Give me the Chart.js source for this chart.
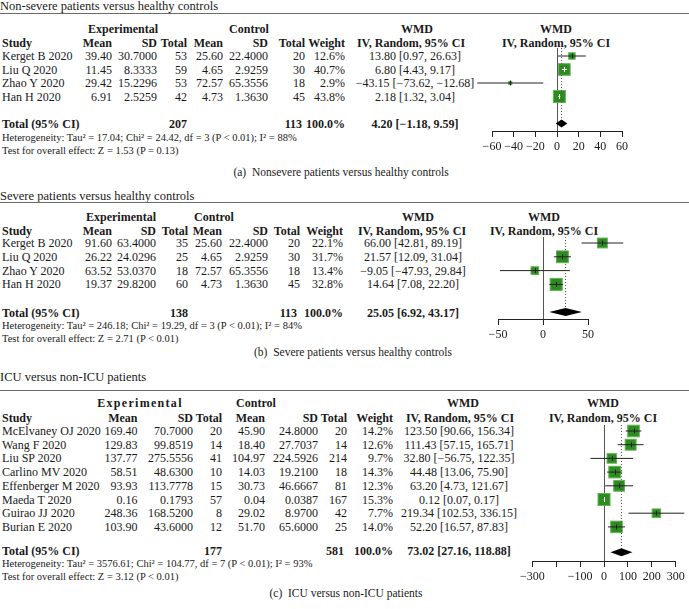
<!DOCTYPE html>
<html><head><meta charset="utf-8">
<script src="https://cdn.jsdelivr.net/npm/chart.js@4.4.0/dist/chart.umd.min.js"></script>
<style>
html,body{margin:0;padding:0;background:#fff;}
#root{position:relative;width:689px;height:609px;overflow:hidden;font-family:"Liberation Serif","Times New Roman",serif;color:#1a1a1a;}
.t{position:absolute;white-space:pre;line-height:1;font-size:12px;}
.b{font-weight:bold;}
.sm{font-size:10.5px;}
.ti{font-size:12.5px;}
.cap{font-size:11.5px;}
.sp{letter-spacing:1.3px;}
.rule{position:absolute;left:0;width:689px;height:0;border-top:1.5px solid #6b6b6b;}
canvas{position:absolute;}
</style></head><body><div id="root"></div>
<script>
// ---------------- DATA ----------------
// Panel (a) Non-severe patients versus healthy controls
const studiesA   = ["Kerget B 2020", "Liu Q 2020", "Zhao Y 2020", "Han H 2020"];
const expMeanA   = [39.40, 11.45, 29.42, 6.91];
const expSdA     = [30.7000, 8.3333, 15.2296, 2.5259];
const expTotalA  = [53, 59, 53, 42];
const ctrlMeanA  = [25.60, 4.65, 72.57, 4.73];
const ctrlSdA    = [22.4000, 2.9259, 65.3556, 1.3630];
const ctrlTotalA = [20, 30, 18, 45];
const weightA    = [12.6, 40.7, 2.9, 43.8];
const wmdA       = [13.80, 6.80, -43.15, 2.18];
const loA        = [0.97, 4.43, -73.62, 1.32];
const hiA        = [26.63, 9.17, -12.68, 3.04];
const pooledA    = [4.20, -1.18, 9.59];          // estimate, lower, upper
const totalsA    = [207, 113];                   // experimental N, control N
const hetA       = ["17.04", "24.42", 3, "< 0.01", 88];  // Tau², Chi², df, P, I²
const testA      = ["1.53", "= 0.13"];           // Z, P
const ticksA     = [-60, -40, -20, 0, 20, 40, 60];
const tickLabelsA= ["−60", "−40", "−20", "0", "20", "40", "60"];

// Panel (b) Severe patients versus healthy controls
const studiesB   = ["Kerget B 2020", "Liu Q 2020", "Zhao Y 2020", "Han H 2020"];
const expMeanB   = [91.60, 26.22, 63.52, 19.37];
const expSdB     = [63.4000, 24.0296, 53.0370, 29.8200];
const expTotalB  = [35, 25, 18, 60];
const ctrlMeanB  = [25.60, 4.65, 72.57, 4.73];
const ctrlSdB    = [22.4000, 2.9259, 65.3556, 1.3630];
const ctrlTotalB = [20, 30, 18, 45];
const weightB    = [22.1, 31.7, 13.4, 32.8];
const wmdB       = [66.00, 21.57, -9.05, 14.64];
const loB        = [42.81, 12.09, -47.93, 7.08];
const hiB        = [89.19, 31.04, 29.84, 22.20];
const pooledB    = [25.05, 6.92, 43.17];
const totalsB    = [138, 113];
const hetB       = ["246.18", "19.29", 3, "< 0.01", 84];
const testB      = ["2.71", "< 0.01"];
const ticksB     = [-50, 0, 50];
const tickLabelsB= ["−50", "0", "50"];

// Panel (c) ICU versus non-ICU patients
const studiesC   = ["McElvaney OJ 2020", "Wang F 2020", "Liu SP 2020", "Carlino MV 2020",
                    "Effenberger M 2020", "Maeda T 2020", "Guirao JJ 2020", "Burian E 2020"];
const expMeanC   = [169.40, 129.83, 137.77, 58.51, 93.93, 0.16, 248.36, 103.90];
const expSdC     = [70.7000, 99.8519, 275.5556, 48.6300, 113.7778, 0.1793, 168.5200, 43.6000];
const expTotalC  = [20, 14, 41, 10, 15, 57, 8, 12];
const ctrlMeanC  = [45.90, 18.40, 104.97, 14.03, 30.73, 0.04, 29.02, 51.70];
const ctrlSdC    = [24.8000, 27.7037, 224.5926, 19.2100, 46.6667, 0.0387, 8.9700, 65.6000];
const ctrlTotalC = [20, 14, 214, 18, 81, 167, 42, 25];
const weightC    = [14.2, 12.6, 9.7, 14.3, 12.3, 15.3, 7.7, 14.0];
const wmdC       = [123.50, 111.43, 32.80, 44.48, 63.20, 0.12, 219.34, 52.20];
const loC        = [90.66, 57.15, -56.75, 13.06, 4.73, 0.07, 102.53, 16.57];
const hiC        = [156.34, 165.71, 122.35, 75.90, 121.67, 0.17, 336.15, 87.83];
const pooledC    = [73.02, 27.16, 118.88];
const totalsC    = [177, 581];
const hetC       = ["3576.61", "104.77", 7, "< 0.01", 93];
const testC      = ["3.12", "< 0.01"];
const ticksC     = [-300, -200, -100, 0, 100, 200, 300];
const tickLabelsC= ["−300", "", "−100", "0", "100", "200", "300"];

// ---------------- LAYOUT / STYLE ----------------
const root = document.getElementById('root');
const FONT = '"Liberation Serif","Times New Roman",serif';
const SQ_FILL = '#2e8b22', SQ_EDGE = '#62b354', LINE = '#222', AXIS = '#222';

function fmt(v, d) { return v.toFixed(d).replace('-', '−'); }
function put(x, y, s, align, cls) {
  const d = document.createElement('div');
  d.className = 't ' + (cls || '');
  d.textContent = s;
  d.style.left = x + 'px';
  d.style.top = y + 'px';
  const tx = align === 'r' ? '-100%' : align === 'c' ? '-50%' : '0';
  d.style.transform = 'translate(' + tx + ',-50%)';
  root.appendChild(d);
}
function rule(y) {
  const d = document.createElement('div');
  d.className = 'rule';
  d.style.top = y + 'px';
  root.appendChild(d);
}

const panels = [
  { title: "Non-severe patients versus healthy controls", caption: "(a)  Nonsevere patients versus healthy controls",
    studies: studiesA, em: expMeanA, esd: expSdA, en: expTotalA, cm: ctrlMeanA, csd: ctrlSdA, cn: ctrlTotalA,
    w: weightA, est: wmdA, lo: loA, hi: hiA, pooled: pooledA, totals: totalsA, het: hetA, test: testA,
    ticks: ticksA, tickLabels: tickLabelsA, expCls: '',
    L: { titleY: 6, ruleY: 13, h1: 29, h2: 43, row1: 56, step: 13.5, totalIdx: 6, totalY: 124, hetY: 137.5, testY: 151,
         capX: 341, capY: 173, cols: [112, 157, 187, 223, 268, 305, 345], wmdC: 415, wmdHC: 417, ivHC: 411,
         expC: 123, ctrlC: 249, areaL: 492, areaR: 622, areaTop: 48, axisY: 131, headC: 556, maxSide: 12 } },
  { title: "Severe patients versus healthy controls", caption: "(b)  Severe patients versus healthy controls",
    studies: studiesB, em: expMeanB, esd: expSdB, en: expTotalB, cm: ctrlMeanB, csd: ctrlSdB, cn: ctrlTotalB,
    w: weightB, est: wmdB, lo: loB, hi: hiB, pooled: pooledB, totals: totalsB, het: hetB, test: testB,
    ticks: ticksB, tickLabels: tickLabelsB, expCls: '',
    L: { titleY: 196, ruleY: 201.5, h1: 217, h2: 231, row1: 243, step: 13.8, totalIdx: 6, totalY: 313, hetY: 326, testY: 339,
         capX: 353, capY: 353, cols: [112, 156, 188, 222, 268, 300, 343], wmdC: 413, wmdHC: 418, ivHC: 412,
         expC: 121, ctrlC: 214, areaL: 498, areaR: 588, areaTop: 237, axisY: 319, headC: 544, maxSide: 12 } },
  { title: "ICU versus non-ICU patients", caption: "(c)  ICU versus non-ICU patients",
    studies: studiesC, em: expMeanC, esd: expSdC, en: expTotalC, cm: ctrlMeanC, csd: ctrlSdC, cn: ctrlTotalC,
    w: weightC, est: wmdC, lo: loC, hi: hiC, pooled: pooledC, totals: totalsC, het: hetC, test: testC,
    ticks: ticksC, tickLabels: tickLabelsC, expCls: 'sp',
    L: { titleY: 377, ruleY: 389.5, h1: 403, h2: 418, row1: 431, step: 13.7, totalIdx: 9.85, totalY: 551, hetY: 564, testY: 577,
         capX: 346, capY: 594, cols: [137.5, 193, 222, 265, 318, 347, 393], wmdC: 459, wmdHC: 463, ivHC: 460,
         expC: 140, ctrlC: 256, areaL: 532.3, areaR: 675.7, areaTop: 425, axisY: 561, headC: 603, maxSide: 12 } }
];

function drawTable(p) {
  const L = p.L, c = L.cols;
  put(0, L.titleY, p.title, 'l', 'ti');
  rule(L.ruleY);
  put(L.expC, L.h1, 'Experimental', 'c', 'b ' + p.expCls);
  put(L.ctrlC, L.h1, 'Control', 'c', 'b');
  put(L.wmdHC, L.h1, 'WMD', 'c', 'b');
  put(2, L.h2, 'Study', 'l', 'b');
  ['Mean', 'SD', 'Total', 'Mean', 'SD', 'Total', 'Weight'].forEach((h, i) => put(c[i], L.h2, h, 'r', 'b'));
  put(L.ivHC, L.h2, 'IV, Random, 95% CI', 'c', 'b');
  p.studies.forEach((s, i) => {
    const y = L.row1 + i * L.step;
    put(2, y, s, 'l');
    put(c[0], y, fmt(p.em[i], 2), 'r');
    put(c[1], y, fmt(p.esd[i], 4), 'r');
    put(c[2], y, String(p.en[i]), 'r');
    put(c[3], y, fmt(p.cm[i], 2), 'r');
    put(c[4], y, fmt(p.csd[i], 4), 'r');
    put(c[5], y, String(p.cn[i]), 'r');
    put(c[6], y, fmt(p.w[i], 1) + '%', 'r');
    put(L.wmdC, y, fmt(p.est[i], 2) + ' [' + fmt(p.lo[i], 2) + ', ' + fmt(p.hi[i], 2) + ']', 'c');
  });
  const ty = L.totalY;
  put(2, ty, 'Total (95% CI)', 'l', 'b');
  put(c[2], ty, String(p.totals[0]), 'r', 'b');
  put(c[5] - 3, ty, String(p.totals[1]), 'r', 'b');
  put(c[6], ty, '100.0%', 'r', 'b');
  put(L.wmdC, ty, fmt(p.pooled[0], 2) + ' [' + fmt(p.pooled[1], 2) + ', ' + fmt(p.pooled[2], 2) + ']', 'c', 'b');
  put(2, L.hetY, 'Heterogeneity: Tau² = ' + p.het[0] + '; Chi² = ' + p.het[1] + ', df = ' + p.het[2] +
      ' (P ' + p.het[3] + '); I² = ' + p.het[4] + '%', 'l', 'sm');
  put(2, L.testY, 'Test for overall effect: Z = ' + p.test[0] + ' (P ' + p.test[1] + ')', 'l', 'sm');
  put(L.capX, L.capY, p.caption, 'c', 'cap');
  put(L.headC, L.h1, 'WMD', 'c', 'b');
  put(L.headC, L.h2, 'IV, Random, 95% CI', 'c', 'b');
}

// squares (weights), estimate ticks and pooled diamond, all placed with the chart's scales
function makeForestPlugin(p, sides, inside) {
  return {
    id: 'forest',
    beforeDatasetsDraw(chart) {
      const xs = chart.scales.x, ys = chart.scales.y, ctx = chart.ctx;
      ctx.save();
      p.est.forEach((e, i) => {
        const cx = xs.getPixelForValue(e), cy = ys.getPixelForValue(i + 1), s = sides[i];
        ctx.fillStyle = SQ_FILL;
        ctx.strokeStyle = SQ_EDGE;
        ctx.lineWidth = 1;
        ctx.fillRect(cx - s / 2, cy - s / 2, s, s);
        ctx.strokeRect(cx - s / 2, cy - s / 2, s, s);
      });
      ctx.restore();
    },
    afterDatasetsDraw(chart) {
      const xs = chart.scales.x, ys = chart.scales.y, ctx = chart.ctx;
      ctx.save();
      ctx.setLineDash([]);
      ctx.lineWidth = 1;
      p.est.forEach((e, i) => {
        const cx = Math.round(xs.getPixelForValue(e)) + 0.5, cy = ys.getPixelForValue(i + 1);
        ctx.strokeStyle = inside(chart, i) ? '#ffffff' : LINE;
        ctx.beginPath();
        ctx.moveTo(cx, cy - 2.5);
        ctx.lineTo(cx, cy + 2.5);
        ctx.stroke();
      });
      const y = ys.getPixelForValue(p.L.totalIdx);
      const h = 4;
      ctx.beginPath();
      ctx.moveTo(xs.getPixelForValue(p.pooled[1]), y);
      ctx.lineTo(xs.getPixelForValue(p.pooled[0]), y - h);
      ctx.lineTo(xs.getPixelForValue(p.pooled[2]), y);
      ctx.lineTo(xs.getPixelForValue(p.pooled[0]), y + h);
      ctx.closePath();
      ctx.fillStyle = '#000';
      ctx.fill();
      ctx.restore();
    }
  };
}

function drawForest(p) {
  const L = p.L;
  const left = 440, W = 689 - left, padTop = 8, padBottom = 4, axisH = 6 + 14.4 + 6;
  const top = L.areaTop - padTop;
  const height = Math.ceil(L.axisY - top + axisH + padBottom);
  const cv = document.createElement('canvas');
  cv.width = W; cv.height = height;
  cv.style.left = left + 'px'; cv.style.top = top + 'px';
  cv.style.width = W + 'px'; cv.style.height = height + 'px';
  root.appendChild(cv);
  const pb = height - (L.axisY - top) - axisH;
  const tmin = p.ticks[0], tmax = p.ticks[p.ticks.length - 1];
  const yMin = 1 - (L.row1 - L.areaTop) / L.step;
  const yMax = 1 + (L.axisY - L.row1) / L.step;
  const wmax = Math.max(...p.w);
  const sides = p.w.map(w => L.maxSide * Math.sqrt(w / wmax));
  const inside = (chart, i) => {
    const xs = chart.scales.x;
    if (!xs || !isFinite(xs.getPixelForValue(0))) return false;
    return Math.abs(xs.getPixelForValue(p.hi[i]) - xs.getPixelForValue(p.lo[i])) < sides[i];
  };
  const datasets = [];
  p.studies.forEach((s, i) => {
    datasets.push({ label: s + ' CI', data: [{ x: p.lo[i], y: i + 1 }, { x: p.hi[i], y: i + 1 }],
      showLine: true, borderColor: (ctx) => inside(ctx.chart, i) ? '#ffffff' : LINE, borderWidth: 1,
      pointRadius: 0, pointHoverRadius: 0, clip: false, order: 1 });
  });
  datasets.push({ label: 'pooled', data: [{ x: p.pooled[0], y: yMin }, { x: p.pooled[0], y: L.totalIdx }],
    showLine: true, borderColor: '#555', borderWidth: 1, borderDash: [1, 2], pointRadius: 0, pointHoverRadius: 0, order: 3 });

  new Chart(cv, {
    type: 'scatter',
    data: { datasets },
    plugins: [makeForestPlugin(p, sides, inside)],
    options: {
      responsive: false, animation: false, devicePixelRatio: 1, events: [],
      layout: { autoPadding: false, padding: { left: L.areaL - left, right: left + W - L.areaR, top: padTop, bottom: pb } },
      plugins: { legend: { display: false }, tooltip: { enabled: false } },
      scales: {
        x: { type: 'linear', min: tmin, max: tmax,
          afterBuildTicks: (ax) => { ax.ticks = p.ticks.map(v => ({ value: v })); },
          border: { display: true, color: AXIS, width: 1 },
          grid: { drawOnChartArea: true, drawTicks: true, tickLength: 6, tickColor: AXIS, tickWidth: 1,
            color: (ctx) => (ctx.tick && ctx.tick.value === 0) ? '#555' : 'rgba(0,0,0,0)', lineWidth: 1 },
          ticks: { autoSkip: false, maxRotation: 0, padding: 3, color: '#1a1a1a',
            font: { family: FONT, size: 12 }, callback: (v, idx) => p.tickLabels[idx] } },
        y: { type: 'linear', display: false, reverse: true, min: yMin, max: yMax }
      }
    }
  });
}

panels.forEach(p => { drawTable(p); drawForest(p); });
</script>
</body></html>
